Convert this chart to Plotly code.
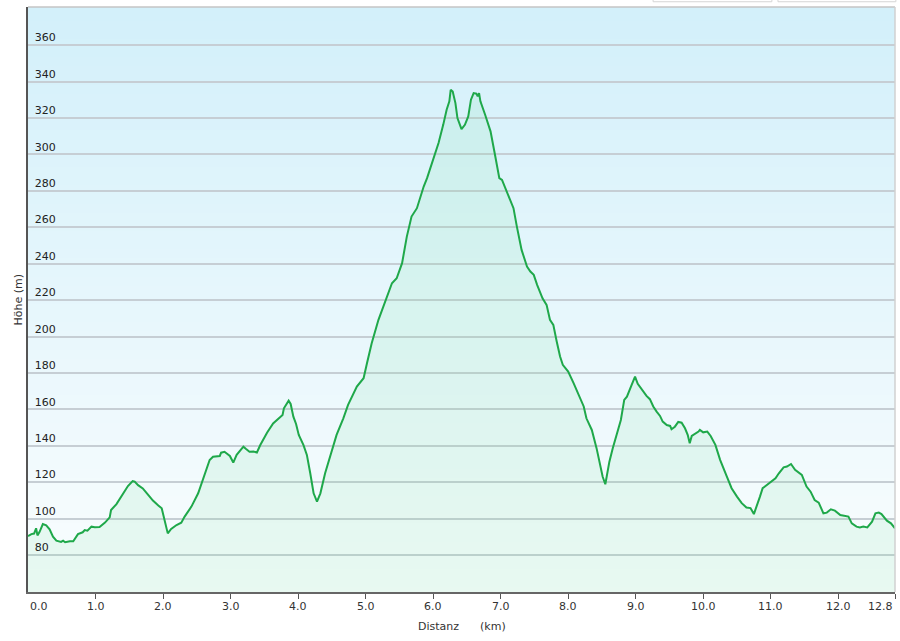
import base64
import struct
import zlib

import plotly.graph_objects as go

# elevation profile
distance_km = [
    0.00, 0.05, 0.09, 0.12, 0.14, 0.17, 0.22, 0.27, 0.32, 0.37, 0.42, 0.49, 0.52, 0.55,
    0.62, 0.67, 0.74, 0.81, 0.84, 0.88, 0.94, 0.99, 1.06, 1.14, 1.21, 1.23, 1.31, 1.38,
    1.48, 1.55, 1.58, 1.63, 1.70, 1.78, 1.85, 1.93, 1.98, 2.07, 2.12, 2.20, 2.27, 2.32,
    2.42, 2.52, 2.62, 2.69, 2.74, 2.84, 2.86, 2.91, 2.99, 3.04, 3.09, 3.19, 3.23, 3.28,
    3.34, 3.39, 3.44, 3.54, 3.63, 3.71, 3.77, 3.79, 3.86, 3.89, 3.93, 3.97, 4.01, 4.08,
    4.13, 4.18, 4.23, 4.28, 4.33, 4.40, 4.47, 4.57, 4.67, 4.74, 4.87, 4.97, 5.02, 5.09,
    5.19, 5.31, 5.39, 5.46, 5.54, 5.61, 5.68, 5.76, 5.81, 5.86, 5.91, 6.00, 6.08, 6.15,
    6.20, 6.24, 6.26, 6.29, 6.33, 6.36, 6.42, 6.47, 6.52, 6.56, 6.60, 6.64, 6.66, 6.68,
    6.70, 6.77, 6.85, 6.92, 6.98, 7.02, 7.07, 7.14, 7.19, 7.24, 7.31, 7.39, 7.44, 7.49,
    7.54, 7.62, 7.68, 7.73, 7.78, 7.83, 7.88, 7.92, 8.00, 8.08, 8.15, 8.23, 8.27, 8.35,
    8.42, 8.47, 8.51, 8.55, 8.57, 8.61, 8.66, 8.72, 8.78, 8.83, 8.87, 8.94, 8.99, 9.03,
    9.09, 9.16, 9.21, 9.26, 9.31, 9.36, 9.40, 9.46, 9.51, 9.53, 9.58, 9.63, 9.68, 9.73,
    9.77, 9.80, 9.83, 9.88, 9.93, 9.95, 10.00, 10.06, 10.11, 10.18, 10.25, 10.35, 10.42,
    10.50, 10.57, 10.64, 10.70, 10.75, 10.80, 10.84, 10.88, 10.97, 11.07, 11.12, 11.19,
    11.24, 11.30, 11.36, 11.46, 11.53, 11.59, 11.65, 11.71, 11.78, 11.83, 11.89, 11.95,
    12.03, 12.09, 12.15, 12.20, 12.27, 12.32, 12.37, 12.43, 12.50, 12.55, 12.60, 12.64,
    12.72, 12.78, 12.84,
]
elevation_m = [
    90.4, 91.5, 91.8, 94.7, 90.8, 92.6, 97.0, 96.3, 94.1, 90.1, 87.9, 87.2, 87.9, 87.0,
    87.6, 87.6, 91.5, 92.5, 93.7, 93.4, 95.6, 95.3, 95.4, 97.8, 100.7, 104.7, 108.0, 112.0,
    117.9, 120.6, 120.3, 118.4, 116.6, 113.0, 109.9, 107.2, 105.7, 91.9, 94.3, 96.5, 97.8, 101.1,
    106.6, 113.9, 124.0, 132.2, 134.0, 134.4, 136.2, 136.7, 134.4, 130.8, 135.0, 139.5, 138.2, 136.7,
    136.9, 136.3, 140.4, 147.2, 152.3, 155.1, 156.9, 160.6, 164.8, 163.0, 156.0, 152.0, 146.0, 140.4,
    135.0, 124.9, 113.9, 109.4, 113.9, 124.9, 134.0, 146.0, 155.1, 162.5, 172.5, 177.1, 185.3, 196.3,
    209.2, 221.0, 229.3, 232.0, 240.3, 254.9, 265.9, 270.5, 276.9, 282.4, 287.0, 297.1, 306.3, 316.4,
    324.6, 329.2, 335.5, 334.6, 328.2, 320.0, 313.9, 316.3, 320.9, 330.1, 333.7, 333.4, 331.9, 333.7,
    329.2, 321.8, 312.7, 299.0, 287.0, 286.0, 281.5, 275.1, 270.5, 260.4, 247.6, 238.4, 235.7, 233.9,
    228.4, 221.0, 217.4, 209.2, 206.4, 197.3, 189.0, 184.5, 180.8, 174.4, 168.0, 161.6, 155.1, 148.7,
    138.7, 130.4, 123.1, 118.9, 123.1, 131.3, 138.7, 146.9, 154.2, 165.2, 167.0, 173.5, 178.0, 174.0,
    171.0, 167.4, 165.6, 161.6, 158.8, 156.4, 153.3, 151.4, 150.9, 149.1, 150.5, 153.1, 152.7, 149.6,
    146.0, 141.4, 145.4, 146.5, 147.8, 148.7, 147.4, 147.8, 145.4, 140.5, 132.3, 123.1, 116.7,
    112.1, 108.5, 106.1, 105.8, 102.5, 108.5, 112.1, 116.7, 119.4, 122.1, 124.9, 128.2,
    128.6, 130.0, 126.8, 124.0, 117.6, 114.8, 110.2, 108.8, 102.9, 103.3, 105.1, 104.4,
    102.0, 101.5, 101.1, 97.4, 95.6, 95.2, 95.6, 95.2, 98.3, 102.9, 103.3, 102.5,
    98.9, 97.4, 94.6,
]

x_tick_values = [0, 1, 2, 3, 4, 5, 6, 7, 8, 9, 10, 11, 12, 12.84]
x_tick_text = ["0.0", "1.0", "2.0", "3.0", "4.0", "5.0", "6.0", "7.0", "8.0",
               "9.0", "10.0", "11.0", "12.0", "12.8"]
y_tick_values = [80, 100, 120, 140, 160, 180, 200, 220, 240, 260, 280, 300, 320, 340, 360]

X_RANGE = [0, 12.84]
Y_RANGE = [59.7, 381]
FONT = "DejaVu Sans"


def gradient_png(top, bottom, n=64):
    # 1 px wide vertical gradient, stretched over the plot area
    rows = b""
    for i in range(n):
        t = i / (n - 1)
        rgb = [round(top[k] + (bottom[k] - top[k]) * t) for k in range(3)]
        rows += b"\x00" + bytes(rgb)

    def chunk(tag, data):
        return (struct.pack(">I", len(data)) + tag + data
                + struct.pack(">I", zlib.crc32(tag + data) & 0xFFFFFFFF))

    png = (b"\x89PNG\r\n\x1a\n"
           + chunk(b"IHDR", struct.pack(">IIBBBBB", 1, n, 8, 2, 0, 0, 0))
           + chunk(b"IDAT", zlib.compress(rows))
           + chunk(b"IEND", b""))
    return "data:image/png;base64," + base64.b64encode(png).decode()


fig = go.Figure()
fig.add_trace(
    go.Scatter(
        x=distance_km,
        y=elevation_m,
        mode="lines",
        line=dict(color="#1fa84a", width=2),
        fill="tozeroy",
        fillcolor="rgba(110,225,145,0.12)",
        hoverinfo="skip",
        showlegend=False,
    )
)

fig.add_layout_image(
    source=gradient_png((211, 240, 250), (250, 253, 254)),
    xref="paper", yref="paper", x=0, y=1, sizex=1, sizey=1,
    xanchor="left", yanchor="top", sizing="stretch", layer="below",
)

# x tick labels: first left aligned, last right aligned
for i, (v, t) in enumerate(zip(x_tick_values, x_tick_text)):
    anchor = "left" if i == 0 else ("right" if i == len(x_tick_values) - 1 else "center")
    fig.add_annotation(
        x=v, y=0, xref="x", yref="paper", text=t, showarrow=False,
        xanchor=anchor, yanchor="top", yshift=-6,
        font=dict(family=FONT, size=11, color="#333333"),
    )

fig.add_annotation(
    x=0.5, y=0, xref="paper", yref="paper",
    text="Distanz\u00a0\u00a0\u00a0\u00a0\u00a0\u00a0(km)", showarrow=False,
    xanchor="center", yanchor="top", yshift=-26,
    font=dict(family=FONT, size=11, color="#333333"),
)
fig.add_annotation(
    x=-0.0115, y=0.5, xref="paper", yref="paper",
    text="Höhe (m)", showarrow=False, textangle=-90,
    xanchor="center", yanchor="middle",
    font=dict(family=FONT, size=11, color="#333333"),
)

# top and right frame, plus the two cut-off boxes above the chart
fig.add_shape(type="line", xref="paper", yref="paper", x0=0, x1=1, y0=1, y1=1,
              line=dict(color="#c4c4c4", width=1.5))
fig.add_shape(type="line", xref="paper", yref="paper", x0=1, x1=1, y0=0, y1=1,
              line=dict(color="#d0d0d0", width=1.5))
fig.add_shape(type="rect", xref="paper", yref="paper", x0=0.721, x1=0.858, y0=1.009, y1=1.05,
              line=dict(color="#d6d6d6", width=1), fillcolor="white")
fig.add_shape(type="rect", xref="paper", yref="paper", x0=0.865, x1=1.001, y0=1.009, y1=1.05,
              line=dict(color="#d6d6d6", width=1), fillcolor="white")

fig.update_xaxes(
    range=X_RANGE,
    tickvals=x_tick_values,
    showticklabels=False,
    ticks="outside",
    ticklen=5,
    tickcolor="#555555",
    showgrid=False,
    zeroline=False,
    showline=True,
    linecolor="#666666",
    linewidth=1.5,
)
fig.update_yaxes(
    range=Y_RANGE,
    tickvals=y_tick_values,
    ticklabelposition="inside top",
    ticklabelstandoff=5,
    ticks="",
    tickfont=dict(family=FONT, size=11, color="#222222"),
    showgrid=True,
    gridcolor="#c6ced4",
    gridwidth=1.5,
    zeroline=False,
    showline=True,
    linecolor="#555555",
    linewidth=2,
)
fig.update_layout(
    width=900,
    height=641,
    margin=dict(l=28, r=5, t=7, b=49),
    paper_bgcolor="white",
    plot_bgcolor="rgba(0,0,0,0)",
    font=dict(family=FONT, size=11, color="#333333"),
    showlegend=False,
)

# the page has a default 8px body margin; drop it so the figure sits at 0,0
fig.write_html(
    "out.html",
    config={"displayModeBar": False},
    post_script="document.body.style.margin='0';",
)
